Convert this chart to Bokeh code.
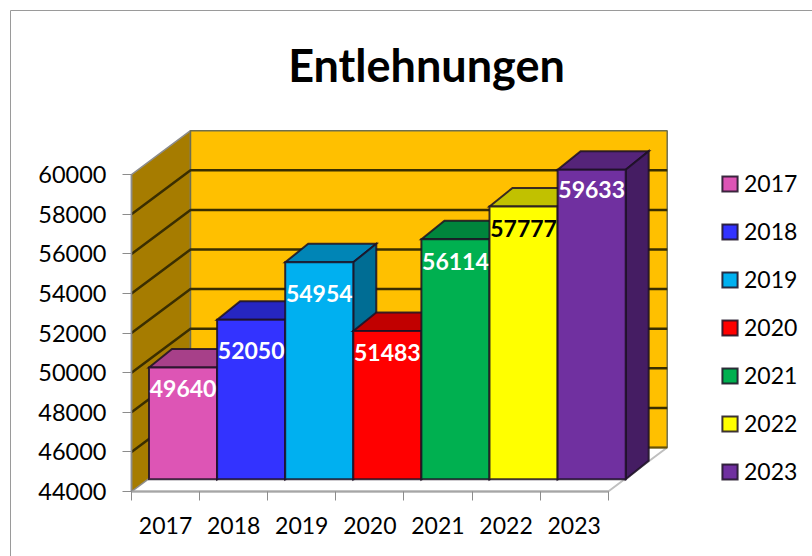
from bokeh.plotting import figure
from bokeh.embed import file_html
from bokeh.resources import INLINE
from bokeh.core.properties import value
from bokeh.models import (ColumnDataSource, FixedTicker, LinearAxis, Legend, LegendItem, Range1d)

title_text = "Entlehnungen"
years = ["2017", "2018", "2019", "2020", "2021", "2022", "2023"]
loans = [49640, 52050, 54954, 51483, 56114, 57777, 59633]
bar_colors = ["#DD55B5", "#3333FF", "#00B0F0", "#FF0000", "#00B050", "#FFFF00", "#7030A0"]
label_colors = ["white", "white", "white", "white", "white", "black", "white"]
label_drop_px = [21, 31, 31, 21, 22, 22, 20]
y_ticks = [44000, 46000, 48000, 50000, 52000, 54000, 56000, 58000, 60000]

W, H = 812, 556
PX_X = 68.1            # px per category
PX_Y = 0.0198          # px per value unit
X0, Y0 = 131, 65       # origin position from canvas left / bottom
Y_MIN = 44000

def dx(px): return px / PX_X
def dy(px): return px / PX_Y

wall_dx, wall_dy = dx(59), dy(44)
bar_off_x, bar_off_y = dx(17.5), dy(12.3)
bar_dx, bar_dy = dx(23), dy(18.5)
FONT = "Lato"

def shade(hex_color, f):
    r, g, b = (int(hex_color[i:i + 2], 16) for i in (1, 3, 5))
    return "#%02X%02X%02X" % (int(r * f), int(g * f), int(b * f))

x_start, x_end = -X0 / PX_X, (W - X0) / PX_X
y_start, y_end = Y_MIN - Y0 / PX_Y, Y_MIN + (H - Y0) / PX_Y

p = figure(width=W, height=H, output_backend="svg", toolbar_location=None,
           x_range=Range1d(x_start, x_end), y_range=Range1d(y_start, y_end),
           x_axis_type=None, y_axis_type=None, min_border=0, tools="")
p.grid.visible = False
p.outline_line_color = None
p.background_fill_color = "white"
p.border_fill_color = "white"

n = len(years)
top_v = y_ticks[-1]

# outer chart border
bx0, bx1 = x_start + dx(10), x_end
by1, by0 = y_end - dy(10), y_start
p.line([bx0, bx0], [by0, by1], line_color="#9A9A9A", line_width=1)
p.line([bx0, bx1], [by1, by1], line_color="#9A9A9A", line_width=1)

# floor
p.patch([0, wall_dx, n + wall_dx, n],
        [Y_MIN, Y_MIN + wall_dy, Y_MIN + wall_dy, Y_MIN],
        fill_color="white", line_color="#BFBFBF", line_width=2)
# side wall
p.patch([0, wall_dx, wall_dx, 0],
        [Y_MIN, Y_MIN + wall_dy, top_v + wall_dy, top_v],
        fill_color="#A67C00", line_color="#8C8C8C", line_width=1.5)
# back wall
p.patch([wall_dx, n + wall_dx, n + wall_dx, wall_dx],
        [Y_MIN + wall_dy, Y_MIN + wall_dy, top_v + wall_dy, top_v + wall_dy],
        fill_color="#FFC000", line_color="#6E6E50", line_width=1.5)
# grid lines, side wall and back wall
grid_v = y_ticks[1:-1]
p.multi_line([[0, wall_dx, n + wall_dx] for _ in grid_v],
             [[v, v + wall_dy, v + wall_dy] for v in grid_v],
             line_color="#3A2E00", line_width=2.5)
p.line([wall_dx, n + wall_dx], [Y_MIN + wall_dy, Y_MIN + wall_dy], line_color="#6B5200", line_width=2)

# bars
front_renderers = []
EDGE = dict(line_color="#1C1024", line_alpha=0.85, line_width=2, line_join="miter")
for i, (v, c) in enumerate(zip(loans, bar_colors)):
    l, r = i + bar_off_x, i + 1 + bar_off_x
    b, t = Y_MIN + bar_off_y, v + bar_off_y
    p.patch([l, l + bar_dx, r + bar_dx, r], [t, t + bar_dy, t + bar_dy, t],
            fill_color=shade(c, 0.76), **EDGE)
    p.patch([r, r + bar_dx, r + bar_dx, r], [b, b + bar_dy, t + bar_dy, t],
            fill_color=shade(c, 0.62), **EDGE)
    front_renderers.append(p.quad(left=[l], right=[r], bottom=[b], top=[t], fill_color=c, **EDGE))

# data labels
src = ColumnDataSource(dict(
    x=[i + 0.5 + bar_off_x for i in range(n)],
    y=[v + bar_off_y for v in loans],
    t=[str(v) for v in loans],
    c=label_colors,
    off=label_drop_px,
))
p.text(x="x", y="y", text="t", text_color="c", y_offset="off", text_align="center",
       text_baseline="middle", text_font=value(FONT), text_font_style="bold",
       text_font_size="23px", source=src)

# title
p.text(x=[dx(426 - 131)], y=[Y_MIN + dy(491 - 64)], text=[title_text], text_align="center",
       text_baseline="middle", text_font=value(FONT), text_font_style="bold",
       text_font_size="45px", text_color="black")

# axes
yax = LinearAxis(ticker=FixedTicker(ticks=y_ticks), fixed_location=0, bounds=(Y_MIN, top_v))
yax.axis_line_color = "#8C8C8C"
yax.axis_line_width = 1.5
yax.major_tick_line_color = "#8C8C8C"
yax.major_tick_out = 9
yax.major_tick_in = 0
yax.minor_tick_line_color = None
yax.major_label_standoff = 16
yax.major_label_text_font = FONT
yax.major_label_text_font_size = "23.5px"
yax.major_label_text_color = "black"
p.add_layout(yax, "left")

xax = LinearAxis(ticker=FixedTicker(ticks=[i + 0.5 for i in range(n)], minor_ticks=list(range(n + 1))),
                 fixed_location=Y_MIN, bounds=(0, n))
xax.major_label_overrides = {i + 0.5: y for i, y in enumerate(years)}
xax.axis_line_color = "#A6A6A6"
xax.axis_line_width = 2
xax.major_tick_line_color = None
xax.major_tick_in = 0
xax.major_tick_out = 0
xax.minor_tick_line_color = "#8C8C8C"
xax.minor_tick_out = 9
xax.minor_tick_in = 0
xax.major_label_standoff = 16
xax.major_label_text_font = FONT
xax.major_label_text_font_size = "23px"
xax.major_label_text_color = "black"
p.add_layout(xax, "below")

# legend
legend = Legend(items=[LegendItem(label=y, renderers=[r]) for y, r in zip(years, front_renderers)],
                location=(720, 71), orientation="vertical", glyph_width=19, glyph_height=19,
                label_height=24, spacing=20, margin=0, padding=0, label_standoff=5,
                background_fill_alpha=0, border_line_color=None,
                label_text_font=FONT, label_text_font_size="23px", label_text_color="black",
                label_text_baseline="middle")
p.add_layout(legend, "center")

open("out.html", "w").write(file_html(p, INLINE))
